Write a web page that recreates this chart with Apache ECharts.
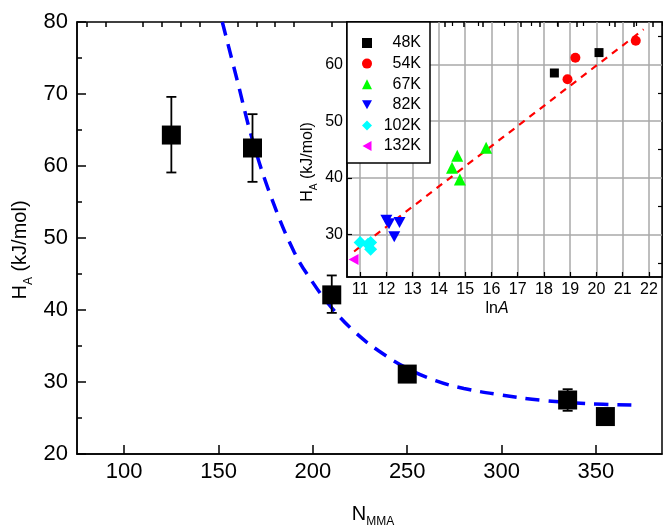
<!DOCTYPE html>
<html>
<head>
<meta charset="utf-8">
<title>H_A vs N_MMA</title>
<script src="https://cdn.jsdelivr.net/npm/echarts@6/dist/echarts.min.js"></script>
<style>
  html, body { margin: 0; padding: 0; background: #fff; }
  #main { width: 663px; height: 528px; }
</style>
</head>
<body>
<div id="main"></div>
<script>
// main panel: H_A against N_MMA
var nMMA = [125, 168, 210, 250, 335, 355];
var hA = [64.3, 62.5, 42.1, 31.1, 27.5, 25.2];
var hALow = [59.1, 57.8, 39.6, null, 26.0, null];
var hAHigh = [69.6, 67.2, 44.8, null, 29.0, null];
// blue dashed fit
var fitX = [152, 160, 168, 178, 190, 200, 210, 222, 235, 250, 265, 280, 300, 320, 345, 372];
var fitY = [80, 71.8, 63.6, 55.6, 48.1, 43.8, 40.3, 37.0, 34.3, 31.9, 30.2, 29.1, 28.2, 27.5, 27.0, 26.8];
var mainXTicks = [100, 150, 200, 250, 300, 350];
var mainXMinor = [80, 90, 110, 120, 130, 140, 160, 170, 180, 190, 210, 220, 230, 240, 260, 270, 280, 290, 310, 320, 330, 340, 360, 370, 380];

// inset: H_A against lnA
var insetNames = ['48K', '54K', '67K', '82K', '102K', '132K'];
var lnA48 = [18.4, 20.1],                 h48 = [58.5, 62.1];
var lnA54 = [18.9, 19.2, 21.5],           h54 = [57.4, 61.2, 64.2];
var lnA67 = [14.5, 14.7, 14.8, 15.8],     h67 = [41.8, 43.9, 39.7, 45.3];
var lnA82 = [12.0, 12.1, 12.5, 12.3],     h82 = [32.5, 31.9, 32.1, 29.6];
var lnA102 = [11.0, 11.3, 11.4, 11.4],    h102 = [28.6, 28.3, 28.6, 27.4];
var lnA132 = [10.75],                     h132 = [25.6];
var lineX = [10.77, 21.8], lineY = [27.0, 66.2];
var insetXTicks = [11, 12, 13, 14, 15, 16, 17, 18, 19, 20, 21, 22];
var insetXMinor = [11.5, 12.5, 13.5, 14.5, 15.5, 16.5, 17.5, 18.5, 19.5, 20.5, 21.5, 22.5];
var insetYTicks = [30, 40, 50, 60];
var insetYMinor = [25, 35, 45, 55, 65];

var DOWN_TRI = 'path://M0,0L10,0L5,9Z';
var LEFT_TRI = 'path://M9,0L9,10L0,5Z';

function zip(a, b) {
    var out = [];
    for (var i = 0; i < a.length; i++) out.push([a[i], b[i]]);
    return out;
}

var errData = [];
for (var i = 0; i < nMMA.length; i++) {
    if (hALow[i] != null) errData.push([nMMA[i], hALow[i], hAHigh[i]]);
}

var FONT = 'Liberation Sans, Arial, sans-serif';
var myChart = echarts.init(document.getElementById('main'));

var option = {
    animation: false,
    textStyle: { fontFamily: FONT, color: '#000' },
    grid: [
        { left: 77, top: 22, right: 1, bottom: 74, show: true, borderColor: '#000', borderWidth: 1.5 },
        { left: 347, top: 22, right: 1, height: 255, show: true, backgroundColor: '#fff', borderColor: '#000', borderWidth: 1.5 }
    ],
    legend: {
        data: insetNames,
        orient: 'vertical',
        left: 347, top: 22,
        backgroundColor: '#fff',
        borderColor: '#000', borderWidth: 1.5, borderRadius: 0,
        padding: [13, 9, 9, 15],
        itemWidth: 10, itemHeight: 10, itemGap: 4.6,
        formatter: '{t|{name}}',
        textStyle: {
            fontFamily: FONT, fontSize: 16, color: '#000',
            rich: { t: { fontFamily: FONT, fontSize: 16, width: 44, align: 'right', lineHeight: 14 } }
        }
    },
    xAxis: [
        {
            gridIndex: 0, type: 'value', min: 75, max: 385,
            axisLine: { lineStyle: { color: '#000', width: 1.5 } },
            axisTick: { inside: true, length: 9, customValues: mainXTicks, lineStyle: { color: '#000', width: 1.5 } },
            axisLabel: { customValues: mainXTicks, fontSize: 22, color: '#000', margin: 7, fontFamily: FONT },
            splitLine: { show: false }
        },
        {
            gridIndex: 0, type: 'value', min: 75, max: 385,
            axisLine: { show: false },
            axisTick: { inside: true, length: 5, customValues: mainXMinor, lineStyle: { color: '#000', width: 1.5 } },
            axisLabel: { show: false },
            splitLine: { show: false }
        },
        {
            gridIndex: 1, type: 'value', min: 10.5, max: 22.5,
            axisLine: { lineStyle: { color: '#000', width: 1.5 } },
            axisTick: { inside: true, length: 5, customValues: insetXTicks, lineStyle: { color: '#000', width: 1.2 } },
            axisLabel: { customValues: insetXTicks, fontSize: 16, color: '#000', margin: 5, fontFamily: FONT },
            splitLine: { show: true, lineStyle: { color: '#a8a8a8', width: 1.5 } }
        },
        {
            gridIndex: 1, type: 'value', min: 10.5, max: 22.5,
            axisLine: { show: false },
            axisTick: { inside: true, length: 4, customValues: insetXMinor, lineStyle: { color: '#000', width: 1.2 } },
            axisLabel: { show: false },
            splitLine: { show: false }
        }
    ],
    yAxis: [
        {
            gridIndex: 0, type: 'value', min: 20, max: 80, interval: 10,
            axisLine: { lineStyle: { color: '#000', width: 1.5 } },
            axisTick: { inside: true, length: 9, lineStyle: { color: '#000', width: 1.5 } },
            minorTick: { show: true, splitNumber: 2, length: 5, lineStyle: { color: '#000', width: 1.5 } },
            axisLabel: { fontSize: 22, color: '#000', margin: 9, fontFamily: FONT },
            splitLine: { show: false }
        },
        {
            gridIndex: 1, type: 'value', min: 22.5, max: 67.5,
            axisLine: { lineStyle: { color: '#000', width: 1.5 } },
            axisTick: { inside: true, length: 5, customValues: insetYTicks, lineStyle: { color: '#000', width: 1.2 } },
            axisLabel: { customValues: insetYTicks, fontSize: 16, color: '#000', margin: 4, fontFamily: FONT },
            splitLine: { show: true, lineStyle: { color: '#a8a8a8', width: 1.5 } }
        },
        {
            gridIndex: 1, type: 'value', min: 22.5, max: 67.5,
            axisLine: { show: false },
            axisTick: { inside: true, length: 4, customValues: insetYMinor, lineStyle: { color: '#000', width: 1.2 } },
            axisLabel: { show: false },
            splitLine: { show: false }
        }
    ],
    graphic: [
        {
            type: 'text', x: 20, y: 250, rotation: Math.PI / 2,
            style: {
                text: '{m|H}{s|A}{m| (kJ/mol)}',
                align: 'center', verticalAlign: 'middle',
                rich: {
                    m: { fontFamily: FONT, fontSize: 20, lineHeight: 30, fill: '#000' },
                    s: { fontFamily: FONT, fontSize: 12, lineHeight: 10, verticalAlign: 'bottom', fill: '#000' }
                }
            }
        },
        {
            type: 'text', x: 373, y: 514,
            style: {
                text: '{m|N}{s|MMA}',
                align: 'center', verticalAlign: 'middle',
                rich: {
                    m: { fontFamily: FONT, fontSize: 20, lineHeight: 28, fill: '#000' },
                    s: { fontFamily: FONT, fontSize: 12, lineHeight: 10, verticalAlign: 'bottom', fill: '#000' }
                }
            }
        },
        {
            type: 'text', x: 308, y: 162, rotation: Math.PI / 2,
            style: {
                text: '{m|H}{s|A}{m| (kJ/mol)}',
                align: 'center', verticalAlign: 'middle',
                rich: {
                    m: { fontFamily: FONT, fontSize: 16, lineHeight: 22, fill: '#000' },
                    s: { fontFamily: FONT, fontSize: 10, lineHeight: 8, verticalAlign: 'bottom', fill: '#000' }
                }
            }
        },
        {
            type: 'text', x: 497, y: 309,
            style: {
                text: '{m|ln}{i|A}',
                align: 'center', verticalAlign: 'middle',
                rich: {
                    m: { fontFamily: FONT, fontSize: 16, fill: '#000' },
                    i: { fontFamily: FONT, fontSize: 16, fontStyle: 'italic', fill: '#000' }
                }
            }
        }
    ],
    series: [
        {
            name: 'fit', type: 'line', xAxisIndex: 0, yAxisIndex: 0,
            data: zip(fitX, fitY), smooth: 0.4, showSymbol: false, symbol: 'none',
            lineStyle: { color: '#0000ff', width: 3.5, type: [14, 9] },
            z: 2
        },
        {
            name: 'err', type: 'custom', xAxisIndex: 0, yAxisIndex: 0,
            data: errData,
            renderItem: function (params, api) {
                var top = api.coord([api.value(0), api.value(2)]);
                var bot = api.coord([api.value(0), api.value(1)]);
                var w = 5;
                var st = { stroke: '#000', lineWidth: 1.8 };
                return {
                    type: 'group', children: [
                        { type: 'line', shape: { x1: top[0], y1: top[1], x2: bot[0], y2: bot[1] }, style: st },
                        { type: 'line', shape: { x1: top[0] - w, y1: top[1], x2: top[0] + w, y2: top[1] }, style: st },
                        { type: 'line', shape: { x1: bot[0] - w, y1: bot[1], x2: bot[0] + w, y2: bot[1] }, style: st }
                    ]
                };
            },
            z: 3
        },
        {
            name: 'HA', type: 'scatter', xAxisIndex: 0, yAxisIndex: 0,
            data: zip(nMMA, hA), symbol: 'rect', symbolSize: 19,
            itemStyle: { color: '#000', opacity: 1 }, z: 4
        },
        {
            name: 'linfit', type: 'line', xAxisIndex: 2, yAxisIndex: 1,
            data: zip(lineX, lineY), showSymbol: false, symbol: 'none',
            lineStyle: { color: '#ff0000', width: 2.2, type: [7, 6] }, z: 3
        },
        {
            name: '48K', type: 'scatter', xAxisIndex: 2, yAxisIndex: 1,
            data: zip(lnA48, h48), symbol: 'rect', symbolSize: 9,
            itemStyle: { color: '#000', opacity: 1 }, z: 4
        },
        {
            name: '54K', type: 'scatter', xAxisIndex: 2, yAxisIndex: 1,
            data: zip(lnA54, h54), symbol: 'circle', symbolSize: 10,
            itemStyle: { color: '#ff0000', opacity: 1 }, z: 4
        },
        {
            name: '67K', type: 'scatter', xAxisIndex: 2, yAxisIndex: 1,
            data: zip(lnA67, h67), symbol: 'triangle', symbolSize: 12,
            itemStyle: { color: '#00ff00', opacity: 1 }, z: 4
        },
        {
            name: '82K', type: 'scatter', xAxisIndex: 2, yAxisIndex: 1,
            data: zip(lnA82, h82), symbol: DOWN_TRI, symbolSize: [12, 11],
            itemStyle: { color: '#0000ff', opacity: 1 }, z: 4
        },
        {
            name: '102K', type: 'scatter', xAxisIndex: 2, yAxisIndex: 1,
            data: zip(lnA102, h102), symbol: 'diamond', symbolSize: 13,
            itemStyle: { color: '#00ffff', opacity: 1 }, z: 4
        },
        {
            name: '132K', type: 'scatter', xAxisIndex: 2, yAxisIndex: 1,
            data: zip(lnA132, h132), symbol: LEFT_TRI, symbolSize: [10, 11],
            itemStyle: { color: '#ff00ff', opacity: 1 }, z: 4
        }
    ]
};

myChart.setOption(option);
</script>
</body>
</html>
